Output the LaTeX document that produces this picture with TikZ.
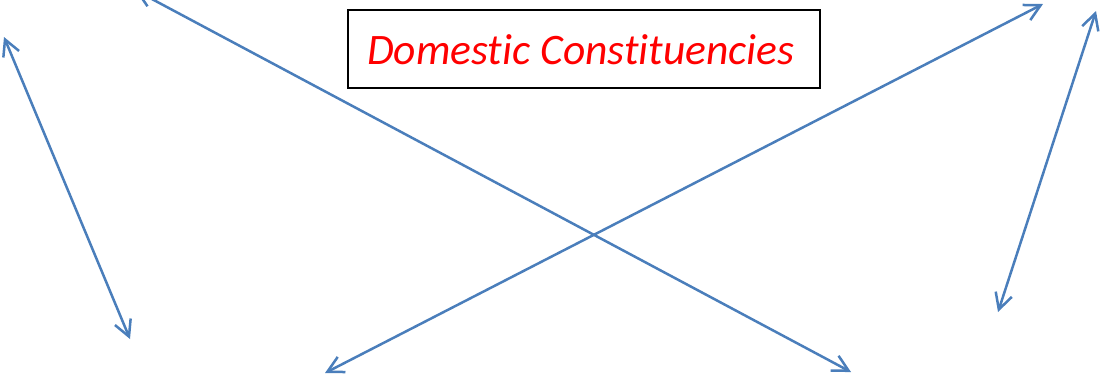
\documentclass[tikz,border=0pt]{standalone}
\usepackage{fontspec}
\setmainfont[Ligatures=NoCommon]{Carlito}
\usepackage{xcolor}
\usepackage{tikz}
\usetikzlibrary{arrows.meta}
\definecolor{dblue}{HTML}{4A7EBB}
\definecolor{dred}{HTML}{FF0000}

\tikzset{
  link/.style={draw=dblue, line width=2.5pt, line cap=round, line join=round,
    >={Straight Barb[length=16pt, width=17pt]}, <->}
}

\begin{document}
\begin{tikzpicture}[x=1pt, y=-1pt]
\useasboundingbox (0,0) rectangle (1102,376);
\clip (0,0) rectangle (1102,376);
\node[draw=black, line width=2.5pt, minimum width=472pt, minimum height=78pt, inner sep=0pt]
  (title) at (584,49) {};
\node[anchor=base west, inner sep=0pt, font=\fontsize{43.5}{48}\selectfont\itshape, text=dred]
  (titletext) at (367,64) {Domestic Constituencies};
% end points of the arrows
\coordinate (lt) at (4,37);
\coordinate (lb) at (130,339);
\coordinate (at) at (135,-10);
\coordinate (ab) at (851,372);
\coordinate (bb) at (325,373);
\coordinate (bt) at (1043,4);
\coordinate (rt) at (1096,11);
\coordinate (rb) at (998,312);
\draw[link] (lt) -- (lb);
\draw[link] (at) -- (ab);
\draw[link] (bb) -- (bt);
\draw[link] (rt) -- (rb);
\end{tikzpicture}
\end{document}
